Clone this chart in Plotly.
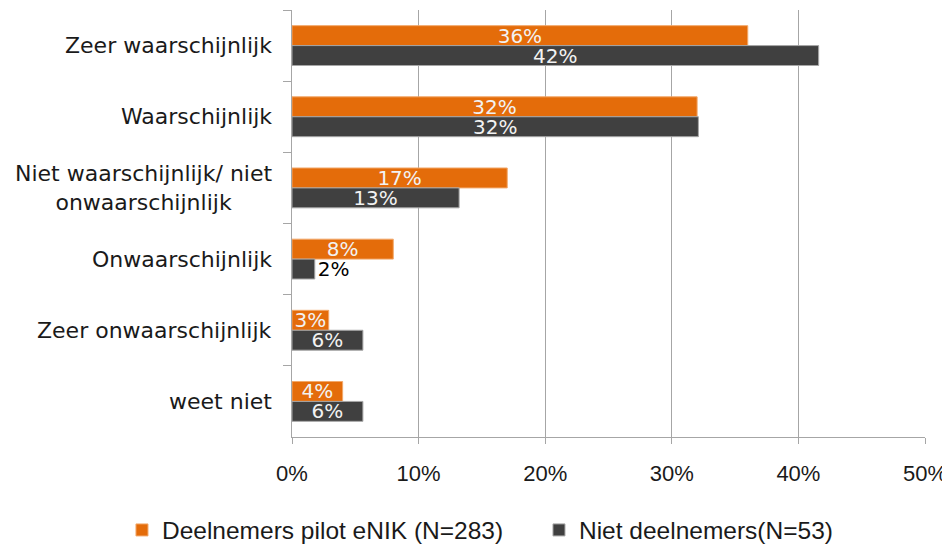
import plotly.graph_objects as go

categories = [
    "Zeer waarschijnlijk",
    "Waarschijnlijk",
    "Niet waarschijnlijk/ niet<br>onwaarschijnlijk",
    "Onwaarschijnlijk",
    "Zeer onwaarschijnlijk",
    "weet niet",
]
series_names = ["Deelnemers pilot eNIK (N=283)", "Niet deelnemers(N=53)"]
deelnemers = [36.0, 32.0, 17.0, 8.0, 2.9, 4.0]
niet_deelnemers = [41.6, 32.1, 13.2, 1.8, 5.6, 5.6]
x_tickvals = [0, 10, 20, 30, 40, 50]
x_ticktext = ["0%", "10%", "20%", "30%", "40%", "50%"]

ORANGE = "#E46C0A"
DARK = "#404040"
GRID = "#a6a6a6"
LABEL_FONT = "DejaVu Sans, Verdana, sans-serif"
AXIS_FONT = "Liberation Sans, Arial, sans-serif"

fig = go.Figure()
fig.add_trace(go.Bar(
    y=categories, x=deelnemers, orientation="h", name=series_names[0],
    marker=dict(color=ORANGE, line=dict(color="#f2a86a", width=1)),
    texttemplate="%{x:.0f}%", textposition="inside", insidetextanchor="middle",
    textfont=dict(family=LABEL_FONT, size=20, color="#f2f2f2"),
    hoverinfo="skip",
))
fig.add_trace(go.Bar(
    y=categories, x=niet_deelnemers, orientation="h", name=series_names[1],
    marker=dict(color=DARK, line=dict(color="#a6a6a6", width=1)),
    texttemplate="%{x:.0f}%",
    textposition=["inside", "inside", "inside", "outside", "inside", "inside"],
    insidetextanchor="middle",
    textfont=dict(family=LABEL_FONT, size=20,
                  color=["#f2f2f2", "#f2f2f2", "#f2f2f2", "#000000", "#f2f2f2", "#f2f2f2"]),
    outsidetextfont=dict(family=LABEL_FONT, size=20, color="#000000"),
    cliponaxis=False,
    hoverinfo="skip",
))

annotations = []
for c in categories:
    annotations.append(dict(
        x=0, xref="paper", y=c, yref="y", text=c, showarrow=False,
        xanchor="right", yanchor="middle", align="center", xshift=-18,
        font=dict(family=LABEL_FONT, size=22, color="#1a1a1a"),
    ))

# the page body adds an 8px offset, so the figure is 8px smaller than the window
fig.update_layout(
    width=942, height=541,
    margin=dict(l=284, r=25, t=2, b=112, autoexpand=False),
    paper_bgcolor="white", plot_bgcolor="white",
    barmode="group", bargap=0.44, bargroupgap=0,
    uniformtext=dict(minsize=20, mode="show"),
    showlegend=True,
    legend=dict(
        orientation="h",
        x=-0.2686, xanchor="left", y=-0.2178, yanchor="middle",
        font=dict(family=AXIS_FONT, size=24.5, color="#1a1a1a"),
        traceorder="normal", entrywidth=372,
    ),
    annotations=annotations,
    xaxis=dict(
        range=[0, 50], tickvals=x_tickvals, ticktext=x_ticktext,
        showgrid=True, gridcolor=GRID, gridwidth=1,
        showline=True, linecolor=GRID, linewidth=1,
        ticks="outside", ticklen=6, tickcolor=GRID,
        ticklabelstandoff=11,
        tickfont=dict(family=AXIS_FONT, size=22, color="#1a1a1a"),
        zeroline=False, fixedrange=True,
    ),
    yaxis=dict(
        autorange="reversed", showticklabels=False,
        showline=True, linecolor=GRID, linewidth=1,
        ticks="outside", ticklen=8, tickcolor=GRID, tickson="boundaries",
        showgrid=False, zeroline=False, fixedrange=True,
    ),
)

fig.write_html("out.html")
